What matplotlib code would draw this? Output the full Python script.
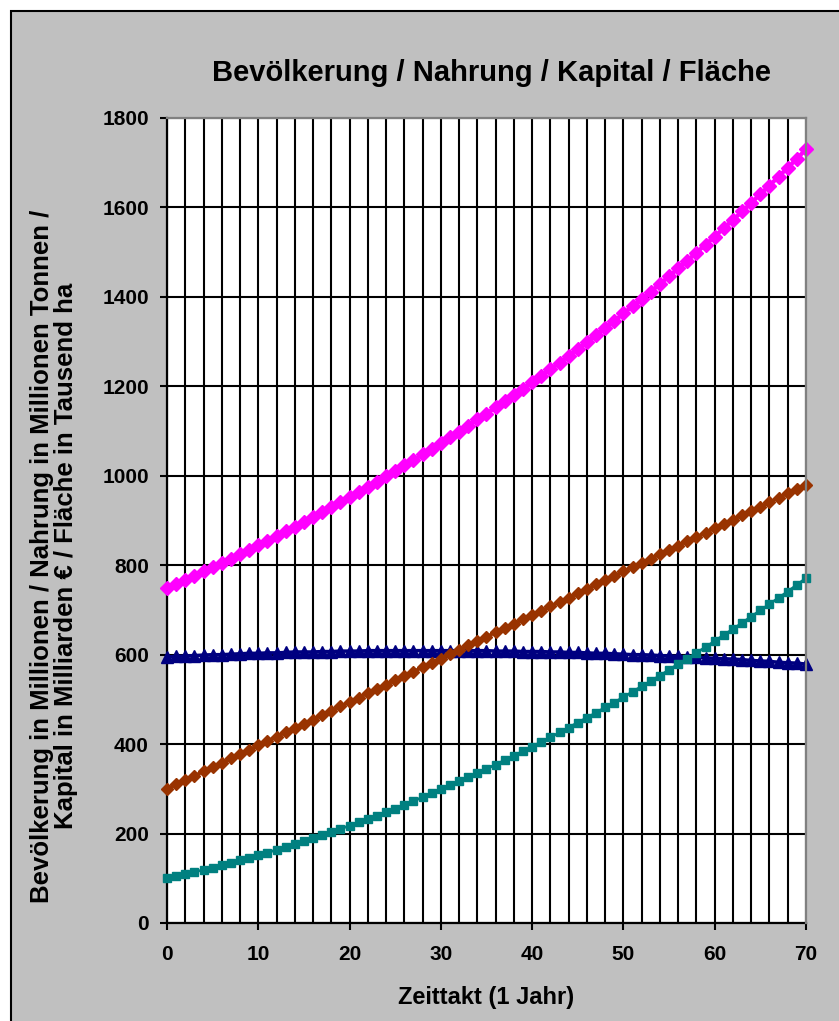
import matplotlib
matplotlib.use("Agg")
import matplotlib.pyplot as plt
from matplotlib.patches import Rectangle
import numpy as np

# Simulation time steps (years)
years = list(range(0, 71))

# Bevölkerung (Millionen)
population = [750, 759, 768, 777, 787, 796, 806, 815, 825, 835,
              845, 855, 866, 876, 886, 897, 908, 919, 930, 941,
              952, 964, 975, 987, 999, 1011, 1023, 1035, 1048, 1060,
              1073, 1086, 1099, 1112, 1126, 1139, 1153, 1167, 1181, 1195,
              1209, 1224, 1238, 1253, 1268, 1284, 1299, 1315, 1330, 1346,
              1363, 1379, 1395, 1412, 1429, 1446, 1464, 1481, 1499, 1517,
              1535, 1554, 1572, 1591, 1610, 1630, 1649, 1669, 1689, 1709,
              1730]

# Nahrung (Millionen Tonnen)
food = [300, 310, 319, 329, 339, 349, 358, 368, 378, 387,
        397, 407, 417, 426, 436, 446, 455, 465, 475, 485,
        494, 504, 514, 523, 533, 543, 553, 562, 572, 582,
        591, 601, 611, 621, 630, 640, 650, 659, 669, 679,
        689, 698, 708, 718, 727, 737, 747, 757, 766, 776,
        786, 795, 805, 815, 825, 834, 844, 854, 863, 873,
        883, 893, 902, 912, 922, 931, 941, 951, 961, 970,
        980]

# Kapital (Milliarden EUR)
capital = [100, 104, 109, 114, 119, 124, 129, 134, 140, 146,
           151, 157, 164, 170, 176, 183, 189, 196, 203, 210,
           218, 225, 233, 240, 248, 256, 264, 273, 281, 290,
           299, 308, 317, 326, 335, 345, 354, 364, 374, 384,
           394, 405, 415, 426, 437, 448, 459, 470, 482, 493,
           505, 517, 529, 541, 553, 566, 579, 591, 604, 617,
           630, 644, 657, 671, 685, 699, 713, 727, 741, 756,
           771]

# Fläche (Tausend ha)
area = [595, 596, 597, 598, 599, 600, 600, 601, 602, 603,
        603, 604, 604, 605, 606, 606, 606, 607, 607, 608,
        608, 608, 609, 609, 609, 609, 609, 609, 609, 609,
        609, 609, 609, 609, 609, 609, 608, 608, 608, 607,
        607, 607, 606, 606, 605, 605, 604, 603, 603, 602,
        601, 600, 600, 599, 598, 597, 596, 595, 594, 593,
        592, 591, 590, 589, 587, 586, 585, 583, 582, 581,
        579]

x_ticks = [0, 10, 20, 30, 40, 50, 60, 70]
y_ticks = [0, 200, 400, 600, 800, 1000, 1200, 1400, 1600, 1800]

FONT = "Liberation Sans"
plt.rcParams["font.family"] = [FONT, "DejaVu Sans"]

W, H = 839, 1021
fig = plt.figure(figsize=(W / 100, H / 100), dpi=100, facecolor="white")

# grey chart area with black frame, behind everything else
fig.patches.append(Rectangle((11 / W, -0.05), 1.2, 1 - 11 / H + 0.05,
                             transform=fig.transFigure, facecolor="#C0C0C0",
                             edgecolor="black", linewidth=1.5, zorder=-10))

ax = fig.add_axes([167 / W, 1 - 923 / H, (806 - 167) / W, (923 - 118) / H])
ax.set_facecolor("white")

series = [
    (area, "#000080", "^", 8.0, 2.5),
    (population, "#FF00FF", "D", 7.5, 3.0),
    (food, "#993300", "D", 6.5, 2.5),
    (capital, "#008080", "s", 6.0, 2.0),
]
for values, color, marker, ms, lw in series:
    ax.plot(years, values, color=color, linewidth=lw, marker=marker,
            markersize=ms, markerfacecolor=color, markeredgecolor=color,
            clip_on=False, zorder=3)

ax.set_xlim(0, 70)
ax.set_ylim(0, 1800)
ax.set_xticks(x_ticks)
ax.set_xticks(np.arange(2, 70, 2), minor=True)
ax.set_yticks(y_ticks)

ax.set_axisbelow(True)
ax.grid(True, which="both", axis="x", color="black", linewidth=1.5)
ax.grid(True, which="major", axis="y", color="black", linewidth=1.5)

ax.tick_params(axis="x", which="minor", length=0)
ax.tick_params(axis="both", which="major", direction="out", length=5,
               width=1.5, color="black")
ax.tick_params(axis="y", pad=8)
ax.tick_params(axis="x", pad=11)

for lab in ax.get_xticklabels() + ax.get_yticklabels():
    lab.set_fontsize(15)
    lab.set_fontweight("bold")
    lab.set_fontfamily(FONT)

for side in ("left", "bottom"):
    ax.spines[side].set_color("black")
    ax.spines[side].set_linewidth(1.6)
for side in ("top", "right"):
    ax.spines[side].set_color("#808080")
    ax.spines[side].set_linewidth(1.6)
    ax.spines[side].set_zorder(4)

fig.text(492 / W, 1 - 73 / H, "Bevölkerung / Nahrung / Kapital / Fläche",
         ha="center", va="center", fontsize=21, fontweight="bold",
         color="black")

fig.text(486 / W, 1 - 997 / H, "Zeittakt (1 Jahr)", ha="center",
         va="center", fontsize=17, fontweight="bold", color="black")

fig.text(54 / W, 1 - 556 / H,
         "Bevölkerung in Millionen / Nahrung in Millionen Tonnen /\n"
         "Kapital in Milliarden € / Fläche in Tausend ha",
         ha="center", va="center", rotation=90, fontsize=18.5,
         fontweight="bold", linespacing=0.95, multialignment="center",
         color="black")

fig.savefig("out.png", dpi=100, facecolor="white")
